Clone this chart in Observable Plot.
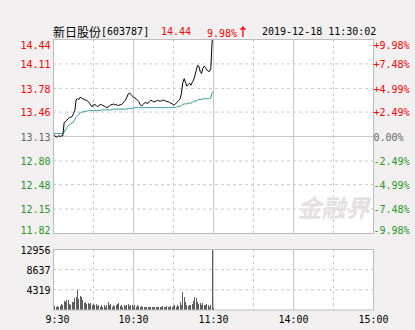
<!DOCTYPE html>
<html><head><meta charset="utf-8">
<script src="https://cdn.jsdelivr.net/npm/d3@7"></script>
<script src="https://cdn.jsdelivr.net/npm/@observablehq/plot@0.6"></script>
<style>
html,body{margin:0;padding:0;background:#f2f0f0;}
#wrap{position:relative;width:415px;height:330px;overflow:hidden;font-family:"DejaVu Sans Mono",monospace;}
#title{position:absolute;top:25px;left:0;width:415px;height:14px;font-size:10px;line-height:14px;white-space:nowrap;}
#title span{position:absolute;top:0;}
#title span span{position:static;}
#wrap svg{position:absolute;left:0;}
</style></head><body><div id="wrap"><div id="title"></div></div>
<script>
// ---- data ----
const stockName = "新日股份";
const stockCode = "[603787]";
const lastPrice = "14.44";
const changePct = "9.98%↑";
const stamp = "2019-12-18 11:30:02";
const preClose = 13.13;

const price = [13.16,13.14,13.12,13.13,13.14,13.13,13.14,13.14,13.32,13.33,
 13.35,13.37,13.39,13.39,13.40,13.44,13.48,13.63,13.64,13.63,
 13.66,13.65,13.64,13.63,13.62,13.62,13.60,13.58,13.55,13.53,
 13.56,13.56,13.55,13.53,13.55,13.56,13.56,13.55,13.54,13.53,
 13.52,13.53,13.54,13.56,13.56,13.57,13.56,13.56,13.55,13.55,
 13.56,13.56,13.58,13.60,13.62,13.66,13.70,13.72,13.70,13.68,
 13.66,13.65,13.64,13.62,13.60,13.56,13.54,13.56,13.58,13.59,
 13.58,13.58,13.60,13.62,13.61,13.60,13.60,13.61,13.62,13.61,
 13.61,13.61,13.62,13.62,13.61,13.60,13.60,13.59,13.58,13.57,
 13.56,13.56,13.58,13.60,13.62,13.64,13.72,13.86,13.91,13.86,
 13.81,13.83,13.85,13.82,13.86,13.89,13.95,14.02,14.09,14.08,
 14.01,13.98,14.05,14.08,14.06,14.03,14.01,14.01,14.05,14.43,
 14.44];

const avgPrice = [13.17,13.17,13.17,13.17,13.17,13.17,13.17,13.17,13.19,13.22,
 13.25,13.27,13.29,13.30,13.31,13.33,13.36,13.39,13.41,13.43,
 13.45,13.46,13.46,13.47,13.47,13.47,13.48,13.48,13.48,13.48,
 13.48,13.48,13.48,13.48,13.48,13.48,13.49,13.49,13.49,13.49,
 13.49,13.49,13.49,13.49,13.49,13.50,13.50,13.50,13.50,13.50,
 13.50,13.50,13.50,13.50,13.50,13.50,13.51,13.51,13.51,13.51,
 13.51,13.52,13.52,13.52,13.52,13.52,13.52,13.52,13.52,13.52,
 13.52,13.52,13.52,13.52,13.52,13.52,13.52,13.52,13.52,13.52,
 13.52,13.52,13.52,13.52,13.52,13.52,13.52,13.52,13.52,13.52,
 13.52,13.52,13.53,13.53,13.54,13.54,13.55,13.56,13.57,13.57,
 13.57,13.58,13.58,13.58,13.59,13.60,13.61,13.61,13.62,13.63,
 13.63,13.63,13.64,13.64,13.64,13.64,13.64,13.64,13.65,13.72,
 13.73];

const volume = [2290,790,640,790,580,790,1220,860,1860,1560,
 2070,2070,1140,1000,1560,1710,2420,2780,4210,2200,
 2930,2720,1930,1350,1560,1140,1350,1140,1350,1000,
 1280,860,1140,790,1000,640,860,640,1000,640,
 860,1560,860,1140,580,1000,790,1000,1220,1350,
 710,860,580,1000,710,1000,1220,790,860,1000,
 640,860,500,860,710,430,790,500,430,640,
 570,570,430,570,430,500,430,500,570,430,
 570,570,710,570,570,710,500,570,710,570,
 710,860,640,1000,790,1710,1000,3700,2570,1570,
 1000,790,1000,860,1210,1860,2570,2420,1570,1140,
 1350,1000,1350,1000,860,1140,860,640,1000,12956,
 300];

const priceTicks = [14.44, 14.11, 13.78, 13.46, 13.13, 12.80, 12.48, 12.15, 11.82];
const priceLabels = ["14.44","14.11","13.78","13.46","13.13","12.80","12.48","12.15","11.82"];
const pctLabels = ["+9.98%","+7.48%","+4.99%","+2.49%","0.00%","-2.49%","-4.99%","-7.48%","-9.98%"];
const volTicks = [12956, 8637, 4319];
const volLabels = ["12956","8637","4319"];
const timeTicks = [0, 60, 120, 180, 240];        // minutes from 9:30 (trading time)
const timeLabels = ["9:30","10:30","11:30","14:00","15:00"];
const gridMinor = [30, 90, 150, 210];
const gridMajor = [60, 120, 180];
const totalMinutes = 240;

// ---- build ----
const RED = "#ff0000", GREEN = "#2a962a", GRAY = "#666666";
const GRID = "#c8c8c8", FRAME = "#bdbdbd";
const pts = price.map((p, i) => ({m: i, p, a: avgPrice[i], v: volume[i]}));

const title = document.getElementById("title");
const spans = [
  [stockName, 53, "#000", "'Noto Sans CJK SC'", "12px"],
  [stockCode, 101, "#000", "'DejaVu Sans Mono'", "10px"],
  [lastPrice, 161, RED, "'DejaVu Sans Mono'", "10px"],
  [changePct, 207, RED, "'DejaVu Sans Mono'", "10px"],
  [stamp, 262, "#000", "'DejaVu Sans Mono'", "10px"]
];
for (const [t, x, c, f, s] of spans) {
  const sp = document.createElement("span");
  sp.style.left = x + "px"; sp.style.color = c;
  sp.style.fontFamily = f; sp.style.fontSize = s;
  if (t.endsWith("↑")) {
    sp.appendChild(document.createTextNode(t.slice(0, -1)));
    const ar = document.createElement("span");
    ar.textContent = "↑";
    ar.style.fontFamily = "'Noto Sans CJK SC'"; ar.style.fontSize = "12px"; ar.style.fontWeight = "bold";
    sp.appendChild(ar);
  } else sp.textContent = t;
  title.appendChild(sp);
}

const lab = (ticks, labels) => d => labels[ticks.indexOf(d)];
const colorOf = d => d > preClose ? RED : d < preClose ? GREEN : GRAY;
function yAxes(anchor, labels, pad) {
  const groups = [
    {ticks: [priceTicks[0]], dy: 6},
    {ticks: priceTicks.slice(1, -1), dy: 1},
    {ticks: [priceTicks[priceTicks.length - 1]], dy: -3}
  ];
  const marks = [];
  for (const g of groups) {
    for (const col of [RED, GRAY, GREEN]) {
      const t = g.ticks.filter(d => colorOf(d) === col);
      if (!t.length) continue;
      marks.push(Plot.axisY(t, {anchor, tickSize: 0, tickPadding: pad, fill: col, dy: g.dy,
        label: null, tickFormat: lab(priceTicks, labels)}));
    }
  }
  return marks;
}

const pricePlot = Plot.plot({
  width: 415, height: 245,
  marginTop: 39, marginBottom: 12, marginLeft: 53, marginRight: 42,
  x: {domain: [0, totalMinutes], axis: null},
  y: {domain: [11.82, 14.44], axis: null},
  style: {background: "transparent", fontFamily: "DejaVu Sans Mono", fontSize: "10px", overflow: "visible"},
  marks: [
    Plot.frame({fill: "white", stroke: null}),
    Plot.ruleY(priceTicks.filter(t => t !== preClose), {stroke: GRID, strokeDasharray: "3,3"}),
    Plot.ruleY([preClose], {stroke: GRID}),
    Plot.ruleX(gridMinor, {stroke: GRID, strokeDasharray: "3,3"}),
    Plot.ruleX(gridMajor, {stroke: GRID}),
    Plot.text(["金融界"], {frameAnchor: "bottom-right", textAnchor: "end", dx: -4, dy: -17,
      fontSize: 24, fontWeight: "bold", fontStyle: "italic", fill: "#e4e0e0", fontFamily: "Noto Sans CJK SC"}),
    Plot.line(pts, {x: "m", y: "a", stroke: "#2f9a94", strokeWidth: 1}),
    Plot.line(pts, {x: "m", y: "p", stroke: "#000", strokeWidth: 1}),
    Plot.frame({stroke: FRAME}),
    ...yAxes("left", priceLabels, 3),
    ...yAxes("right", pctLabels, 0)
  ]
});
pricePlot.style.top = "0px";
document.getElementById("wrap").appendChild(pricePlot);

const volPlot = Plot.plot({
  width: 415, height: 90,
  marginTop: 9, marginBottom: 20.5, marginLeft: 53, marginRight: 42,
  x: {domain: [0, totalMinutes], axis: null},
  y: {domain: [0, 12956], axis: null},
  style: {background: "transparent", fontFamily: "DejaVu Sans Mono", fontSize: "10px", overflow: "visible", color: "#000"},
  marks: [
    Plot.frame({fill: "white", stroke: null}),
    Plot.ruleY(volTicks.slice(1), {stroke: GRID, strokeDasharray: "3,3"}),
    Plot.ruleX(gridMinor, {stroke: GRID, strokeDasharray: "3,3"}),
    Plot.ruleX(gridMajor, {stroke: GRID}),
    Plot.ruleX(pts, {x: "m", y: "v", stroke: "#5e5e5e", strokeWidth: 1, shapeRendering: "crispEdges"}),
    Plot.frame({stroke: FRAME}),
    Plot.axisY(volTicks, {anchor: "left", tickSize: 0, tickPadding: 3, dy: 1, label: null,
      tickFormat: lab(volTicks, volLabels)}),
    Plot.axisX([timeTicks[0]], {anchor: "bottom", tickSize: 0, tickPadding: 6, dx: 4, label: null,
      tickFormat: lab(timeTicks, timeLabels)}),
    Plot.axisX(timeTicks.slice(1), {anchor: "bottom", tickSize: 0, tickPadding: 6, label: null,
      tickFormat: lab(timeTicks, timeLabels)})
  ]
});
volPlot.style.top = "240px";
document.getElementById("wrap").appendChild(volPlot);
</script>
</body></html>
